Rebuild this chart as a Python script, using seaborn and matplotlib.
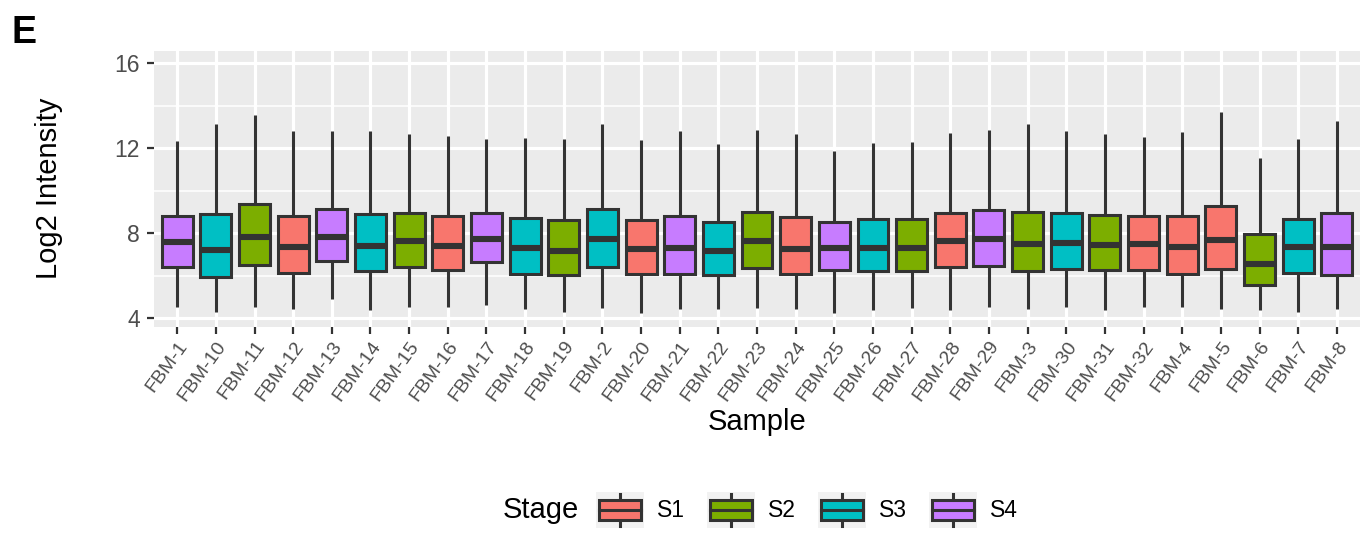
import numpy as np
import pandas as pd
import matplotlib
matplotlib.use("Agg")
import matplotlib.pyplot as plt
import seaborn as sns
from matplotlib.legend_handler import HandlerBase
from matplotlib.patches import Rectangle, Patch
from matplotlib.lines import Line2D
from matplotlib.ticker import FixedLocator

# Per-sample summary of log2 intensities (whisker ends, quartiles, median)
samples = ["FBM-1", "FBM-10", "FBM-11", "FBM-12", "FBM-13", "FBM-14", "FBM-15",
           "FBM-16", "FBM-17", "FBM-18", "FBM-19", "FBM-2", "FBM-20", "FBM-21",
           "FBM-22", "FBM-23", "FBM-24", "FBM-25", "FBM-26", "FBM-27", "FBM-28",
           "FBM-29", "FBM-3", "FBM-30", "FBM-31", "FBM-32", "FBM-4", "FBM-5",
           "FBM-6", "FBM-7", "FBM-8"]
stages = ["S4", "S3", "S2", "S1", "S4", "S3", "S2", "S1", "S4", "S3", "S2",
          "S3", "S1", "S4", "S3", "S2", "S1", "S4", "S3", "S2", "S1", "S4",
          "S2", "S3", "S2", "S1", "S1", "S1", "S2", "S3", "S4"]
whisker_low = [4.55, 4.30, 4.55, 4.45, 4.89, 4.39, 4.52, 4.52, 4.63, 4.45, 4.30,
               4.50, 4.24, 4.45, 4.45, 4.50, 4.45, 4.24, 4.39, 4.50, 4.39, 4.52,
               4.45, 4.52, 4.39, 4.52, 4.52, 4.45, 4.39, 4.30, 4.45]
q1 = [6.43, 5.95, 6.49, 6.15, 6.68, 6.23, 6.43, 6.26, 6.64, 6.09, 6.01,
      6.43, 6.09, 6.07, 6.04, 6.38, 6.10, 6.27, 6.20, 6.20, 6.40, 6.46,
      6.20, 6.31, 6.27, 6.29, 6.10, 6.31, 5.54, 6.15, 6.05]
median = [7.58, 7.22, 7.81, 7.36, 7.83, 7.42, 7.62, 7.39, 7.73, 7.29, 7.17,
          7.73, 7.25, 7.29, 7.15, 7.64, 7.26, 7.29, 7.29, 7.29, 7.62, 7.73,
          7.48, 7.53, 7.44, 7.47, 7.36, 7.69, 6.53, 7.36, 7.37]
q3 = [8.83, 8.89, 9.38, 8.83, 9.16, 8.89, 8.97, 8.82, 8.97, 8.71, 8.63,
      9.16, 8.63, 8.80, 8.55, 9.02, 8.78, 8.52, 8.66, 8.66, 8.97, 9.07,
      8.99, 8.94, 8.86, 8.83, 8.80, 9.30, 7.97, 8.67, 8.94]
whisker_high = [12.35, 13.13, 13.58, 12.82, 12.82, 12.82, 12.66, 12.58, 12.44,
                12.50, 12.44, 13.13, 12.38, 12.83, 12.22, 12.85, 12.69, 11.86,
                12.24, 12.27, 12.72, 12.86, 13.13, 12.82, 12.66, 12.55, 12.78,
                13.71, 11.53, 12.44, 13.27]

stage_levels = ["S1", "S2", "S3", "S4"]
stage_colors = ["#F8766D", "#7CAE00", "#00BFC4", "#C77CFF"]
palette = dict(zip(stage_levels, stage_colors))

# Long-form table: five points per sample reproduce the five-number summary
rows = []
for s, st, lo, a, m, b, hi in zip(samples, stages, whisker_low, q1, median, q3, whisker_high):
    for v in (lo, a, m, b, hi):
        rows.append({"Sample": s, "Stage": st, "Log2 Intensity": v})
df = pd.DataFrame(rows)

plt.rcParams["font.family"] = ["Liberation Sans", "DejaVu Sans"]

W, H = 1367, 539
fig = plt.figure(figsize=(W / 100, H / 100), dpi=100)
px_l, px_r, px_t, px_b = 154, 1360, 50.7, 326.7
ax = fig.add_axes([px_l / W, 1 - px_b / H, (px_r - px_l) / W, (px_b - px_t) / H])

dark = "#333333"
sns.boxplot(data=df, x="Sample", y="Log2 Intensity", hue="Stage",
            order=samples, hue_order=stage_levels, palette=palette,
            dodge=False, width=0.8, whis=(0, 100), showfliers=False,
            showcaps=False, saturation=1, linewidth=2.2, linecolor=dark,
            medianprops=dict(linewidth=4.4, color=dark),
            legend=False, ax=ax)

# ggplot-like grey panel
ax.set_facecolor("#EBEBEB")
for sp in ax.spines.values():
    sp.set_visible(False)
ax.set_axisbelow(True)
ax.set_xlim(-0.6, len(samples) - 0.4)
ax.set_ylim(3.6, 16.59)
ax.yaxis.set_major_locator(FixedLocator([4, 8, 12, 16]))
ax.yaxis.set_minor_locator(FixedLocator([6, 10, 14]))
ax.grid(True, which="major", color="white", linewidth=2.3)
ax.grid(True, which="minor", axis="y", color="white", linewidth=1.15)

ax.tick_params(axis="both", which="major", color=dark, width=1.6, length=5,
               labelcolor="#4D4D4D")
ax.tick_params(axis="y", which="major", labelsize=16.5, pad=5)
ax.tick_params(axis="y", which="minor", length=0)
ax.tick_params(axis="x", which="major", labelsize=14, pad=3)
for lab in ax.get_xticklabels():
    lab.set_rotation(54)
    lab.set_ha("right")
    lab.set_va("top")
    lab.set_rotation_mode("anchor")

ax.set_xlabel("Sample", fontsize=21, color="black", va="center")
ax.xaxis.set_label_coords(0.5, (px_b - 422) / (px_b - px_t))
ax.set_ylabel("Log2 Intensity", fontsize=21, color="black", va="center")
ax.yaxis.set_label_coords((49 - px_l) / (px_r - px_l), 0.5)

fig.text(12 / W, 1 - 33 / H, "E", fontsize=27, fontweight="bold",
         ha="left", va="center")


class BoxKey(HandlerBase):
    """Legend key drawn as a small boxplot on a light grey square."""

    def create_artists(self, legend, orig_handle, xdescent, ydescent,
                       width, height, fontsize, trans):
        x0, y0 = -xdescent, -ydescent
        bg = Rectangle((x0, y0), width, height, facecolor="#F2F2F2",
                       edgecolor="none", transform=trans)
        bx0, bx1 = x0 + 0.07 * width, x0 + 0.93 * width
        by0, by1 = y0 + 0.22 * height, y0 + 0.78 * height
        box = Rectangle((bx0, by0), bx1 - bx0, by1 - by0,
                        facecolor=orig_handle.get_facecolor(), edgecolor=dark,
                        linewidth=2.2, transform=trans)
        xm, ym = x0 + width / 2, y0 + height / 2
        med = Line2D([bx0, bx1], [ym, ym], color=dark, linewidth=2.2, transform=trans)
        up = Line2D([xm, xm], [by1, y0 + 0.93 * height], color=dark, linewidth=2.2,
                    transform=trans)
        dn = Line2D([xm, xm], [y0 + 0.07 * height, by0], color=dark, linewidth=2.2,
                    transform=trans)
        return [bg, up, dn, box, med]


handles = [Patch(facecolor=palette[s], label=s) for s in stage_levels]
leg_y = 1 - 510 / H
fig.legend(handles=handles, labels=stage_levels, loc="center left",
           bbox_to_anchor=(596 / W, leg_y), ncol=4, frameon=False,
           fontsize=16.5, handlelength=2.1, handleheight=2.05,
           handletextpad=0.57, columnspacing=0.95, borderpad=0,
           borderaxespad=0, handler_map={Patch: BoxKey()})
fig.text(503 / W, leg_y, "Stage", fontsize=21, ha="left", va="center")

fig.savefig("out.png", dpi=100)
